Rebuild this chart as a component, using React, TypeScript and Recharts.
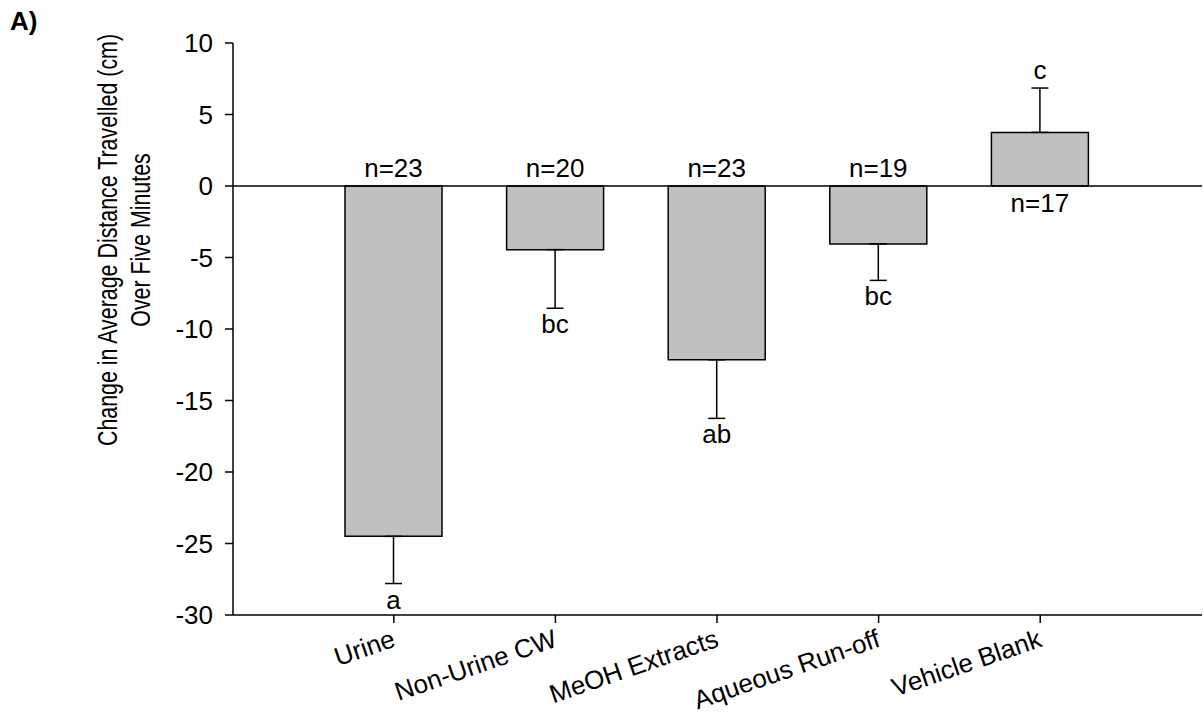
import React from 'react'
import {
  BarChart,
  Bar,
  XAxis,
  YAxis,
  ErrorBar,
  LabelList,
  ReferenceLine,
} from 'recharts'

const font = '"Liberation Sans", Arial, sans-serif'

const categories = ['Urine', 'Non-Urine CW', 'MeOH Extracts', 'Aqueous Run-off', 'Vehicle Blank']
const means = [-24.5, -4.45, -12.15, -4.05, 3.75]
const sems = [3.3, 4.1, 4.1, 2.55, 3.1]
const sampleSizes = ['n=23', 'n=20', 'n=23', 'n=19', 'n=17']
const letters = ['a', 'bc', 'ab', 'bc', 'c']
const yTicks = [-30, -25, -20, -15, -10, -5, 0, 5, 10]

// one-sided error bars: only the side pointing away from zero
const data = categories.map((name, i) => ({
  name,
  value: means[i],
  err: means[i] < 0 ? [sems[i], 0] : [0, sems[i]],
}))

function XTick({ x, y, payload }: any) {
  return (
    <g transform={`translate(${x + 3},${y + 21})`}>
      <text
        textAnchor="end"
        transform="rotate(-19)"
        fontSize={26}
        fontFamily={font}
        fill="#000"
      >
        {payload.value}
      </text>
    </g>
  )
}

function BarNotes(props: any) {
  const { x, y, width, height, index } = props
  const v = means[index]
  const top = Math.min(y, y + height)
  const bottom = Math.max(y, y + height)
  const pxPerUnit = Math.abs(height) / Math.abs(v)
  const cx = x + width / 2
  const neg = v < 0
  const zero = neg ? top : bottom
  const end = neg ? bottom : top
  const cap = neg ? end + sems[index] * pxPerUnit : end - sems[index] * pxPerUnit
  const style = { fontSize: 26, fontFamily: font, fill: '#000' }
  return (
    <g>
      <text x={cx} y={neg ? zero - 9 : zero + 26} textAnchor="middle" {...style}>
        {sampleSizes[index]}
      </text>
      <text x={cx} y={neg ? cap + 25 : cap - 9} textAnchor="middle" {...style}>
        {letters[index]}
      </text>
    </g>
  )
}

// narrow, tall axis title as in the original figure
function YTitle() {
  return (
    <g fontFamily={font} fill="#000">
      <text x={10} y={30} fontSize={26} fontWeight="bold">
        A)
      </text>
      <text
        transform="translate(117,240) rotate(-90) scale(0.764,1)"
        textAnchor="middle"
        fontSize={28}
      >
        Change in Average Distance Travelled (cm)
      </text>
      <text
        transform="translate(150,240) rotate(-90) scale(0.764,1)"
        textAnchor="middle"
        fontSize={28}
      >
        Over Five Minutes
      </text>
    </g>
  )
}

export default function App() {
  return (
    <div style={{ position: 'absolute', left: 0, top: 0, background: '#fff' }}>
      <BarChart
        width={1204}
        height={720}
        data={data}
        margin={{ top: 43, right: 2, left: 0, bottom: 0 }}
      >
        <XAxis
          dataKey="name"
          height={105}
          padding={{ left: 80, right: 81 }}
          axisLine={{ stroke: '#000', strokeWidth: 1.5 }}
          tickLine={{ stroke: '#000', strokeWidth: 1.5 }}
          tickSize={8}
          tickMargin={2}
          tick={<XTick />}
          interval={0}
        />
        <YAxis
          width={233}
          domain={[-30, 10]}
          ticks={yTicks}
          interval={0}
          axisLine={{ stroke: '#000', strokeWidth: 1.5 }}
          tickLine={{ stroke: '#000', strokeWidth: 1.5 }}
          tickSize={8}
          tickMargin={12}
          tick={{ fontSize: 26, fontFamily: font, fill: '#000' }}
          label={<YTitle />}
        />
        <ReferenceLine y={0} stroke="#000" strokeWidth={1.5} />
        <Bar
          dataKey="value"
          fill="#c0c0c0"
          stroke="#000"
          strokeWidth={1.5}
          barSize={97}
          isAnimationActive={false}
        >
          <ErrorBar dataKey="err" width={8.5} stroke="#000" strokeWidth={1.5} direction="y" />
          <LabelList dataKey="value" content={<BarNotes />} />
        </Bar>
      </BarChart>
    </div>
  )
}
